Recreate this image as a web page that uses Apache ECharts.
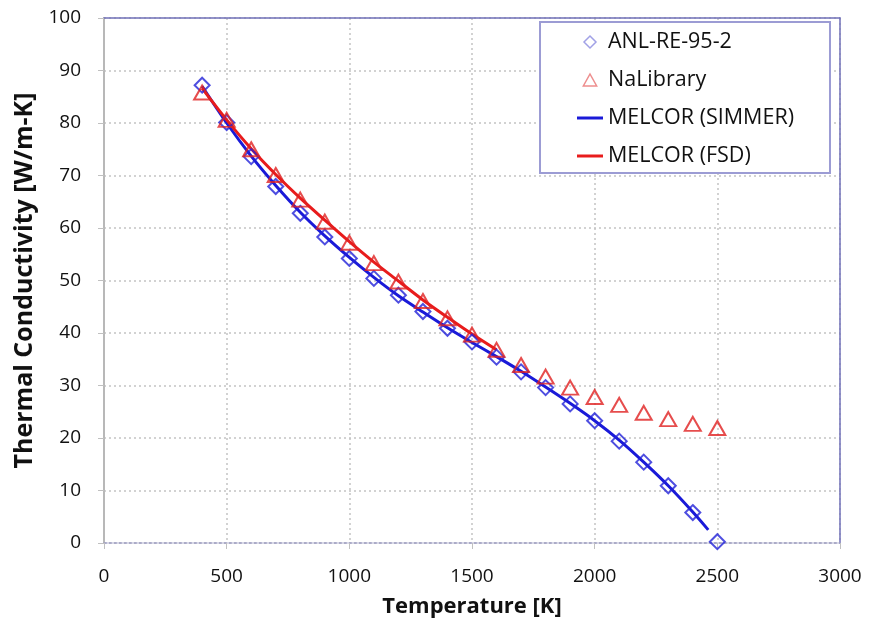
<!DOCTYPE html>
<html>
<head>
<meta charset="utf-8">
<script src="https://cdn.jsdelivr.net/npm/echarts@6/dist/echarts.min.js"></script>
<style>html,body{margin:0;padding:0;background:#fff}#c{width:870px;height:634px}</style>
</head>
<body>
<div id="c"></div>
<script>
const temps = [400,500,600,700,800,900,1000,1100,1200,1300,1400,1500,1600,1700,1800,1900,2000,2100,2200,2300,2400,2500];
const anl = [87.2,80.1,73.6,67.9,62.8,58.3,54.2,50.4,47.2,44.1,40.9,38.3,35.4,32.6,29.6,26.5,23.3,19.4,15.4,10.9,5.8,0.25];
const naLib = [85.8,80.6,75.0,70.1,65.4,61.2,57.2,53.3,49.8,46.1,42.8,39.7,36.8,33.9,31.7,29.6,27.8,26.3,24.8,23.6,22.7,21.9];
const simmerT = [400,500,600,700,800,900,1000,1100,1200,1300,1400,1500,1600,1700,1800,1900,2000,2100,2200,2300,2400,2463];
const simmerK = [87.0,80.0,73.7,68.1,63.0,58.5,54.4,50.6,47.1,44.0,41.0,38.2,35.5,32.7,29.7,26.6,23.3,19.6,15.4,10.9,5.9,2.5];
const fsdT = [400,500,600,700,800,900,1000,1100,1200,1300,1400,1500,1600];
const fsdK = [86.6,80.6,75.1,70.2,65.7,61.5,57.4,53.5,49.9,46.3,43.0,39.8,36.8];
const xTicks = {min:0, max:3000, interval:500};
const yTicks = {min:0, max:100, interval:10};
const seriesNames = ['ANL-RE-95-2','NaLibrary','MELCOR (SIMMER)','MELCOR (FSD)'];

const pair = (xs, ys) => xs.map((x,i)=>[x, ys[i]]);
const FONT = 'Open Sans';
const LINE_ICON = 'path://M0 0H26V3H0Z';
const DIAMOND_ICON = 'path://M5 0L10 5L5 10L0 5Z';
const TRI_ICON = 'path://M5 0L10 9L0 9Z';
const chart = echarts.init(document.getElementById('c'), null, {renderer:'canvas'});
chart.setOption({
  animation:false,
  backgroundColor:'#fff',
  grid:{left:104, right:30, top:18, bottom:91, containLabel:false},
  xAxis:[{
    type:'value', min:xTicks.min, max:xTicks.max, interval:xTicks.interval,
    name:'Temperature [K]', nameLocation:'middle', nameGap:53,
    nameTextStyle:{fontFamily:FONT, fontWeight:'bold', fontSize:22, color:'#111'},
    axisLine:{show:true, onZero:false, lineStyle:{color:'#a0a0c4', type:[3,2], width:1.5}},
    axisTick:{show:true, inside:false, length:6, lineStyle:{color:'#c0c0c0'}},
    axisLabel:{fontFamily:FONT, fontSize:19, color:'#111', margin:24, formatter:v=>String(v)},
    splitLine:{show:true, lineStyle:{color:'#c4c4c4', type:[2,3], width:1.5}}
  },{
    type:'value', position:'top', min:xTicks.min, max:xTicks.max, interval:xTicks.interval,
    axisLine:{show:true, onZero:false, lineStyle:{color:'#7070b8', width:1.5}},
    axisTick:{show:false}, axisLabel:{show:false}, splitLine:{show:false}
  }],
  yAxis:[{
    type:'value', min:yTicks.min, max:yTicks.max, interval:yTicks.interval,
    name:'Thermal Conductivity [W/m-K]', nameLocation:'middle', nameGap:52,
    nameTextStyle:{fontFamily:FONT, fontWeight:'bold', fontSize:25, color:'#111'},
    axisLine:{show:true, onZero:false, lineStyle:{color:'#b8b8b8', width:2}},
    axisTick:{show:true, inside:false, length:6, lineStyle:{color:'#c0c0c0'}},
    axisLabel:{fontFamily:FONT, fontSize:19, color:'#111', margin:23, formatter:v=>String(v)},
    splitLine:{show:true, lineStyle:{color:'#c4c4c4', type:[2,3], width:1.5}}
  },{
    type:'value', position:'right', min:yTicks.min, max:yTicks.max, interval:yTicks.interval,
    axisLine:{show:true, onZero:false, lineStyle:{color:'#7070b8', width:1.5}},
    axisTick:{show:false}, axisLabel:{show:false}, splitLine:{show:false}
  }],
  legend:{
    orient:'vertical', left:540, top:22,
    padding:[9, 36, 6, 37], itemGap:16, itemWidth:26, itemHeight:12,
    backgroundColor:'#fff', borderColor:'#9c9cd4', borderWidth:2,
    textStyle:{fontFamily:FONT, fontSize:21.5, color:'#111'},
    data:[
      {name:seriesNames[0], icon:DIAMOND_ICON, itemStyle:{color:'rgba(255,255,255,0)', borderColor:'#8a8ae0', borderWidth:1.5}},
      {name:seriesNames[1], icon:TRI_ICON, itemStyle:{color:'rgba(255,255,255,0)', borderColor:'#e87070', borderWidth:1.5}},
      {name:seriesNames[2], icon:LINE_ICON},
      {name:seriesNames[3], icon:LINE_ICON}
    ]
  },
  series:[
    {name:seriesNames[2], type:'line', data:pair(simmerT, simmerK), symbol:'none', smooth:0.3,
     lineStyle:{color:'#1a1ad8', width:3}, itemStyle:{color:'#1a1ad8'}, z:3},
    {name:seriesNames[3], type:'line', data:pair(fsdT, fsdK), symbol:'none', smooth:0.3,
     lineStyle:{color:'#e81c1c', width:3}, itemStyle:{color:'#e81c1c'}, z:4},
    {name:seriesNames[0], type:'scatter', data:pair(temps, anl), symbol:'diamond', symbolSize:[15,15],
     itemStyle:{color:'rgba(255,255,255,0)', borderColor:'#2222d8', borderWidth:2}, z:5},
    {name:seriesNames[1], type:'scatter', data:pair(temps, naLib), symbol:'triangle', symbolSize:[16,14],
     itemStyle:{color:'rgba(255,255,255,0)', borderColor:'#e02020', borderWidth:2}, z:6}
  ]
});
</script>
</body>
</html>
